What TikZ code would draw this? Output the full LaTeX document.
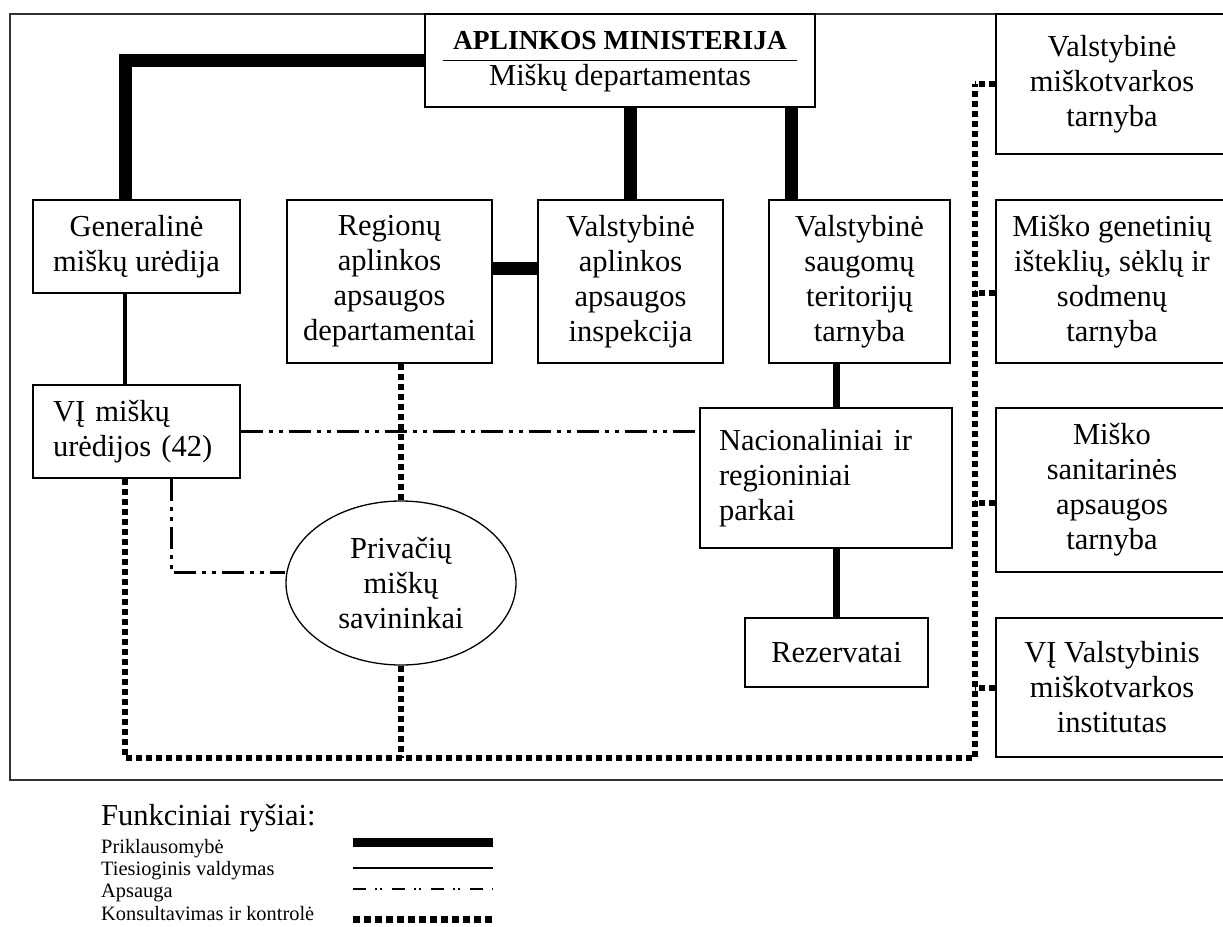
\documentclass[tikz,border=0pt]{standalone}
\usepackage{fontspec}
\setmainfont{Liberation Serif}
\usetikzlibrary{shapes.geometric}
\begin{document}
\begin{tikzpicture}[x=1pt, y=-1pt,
		box/.style={draw, line width=1.6pt, inner sep=0pt, align=center, font=\fontsize{30.5}{35}\selectfont},
		legtext/.style={anchor=base west, inner sep=0pt, font=\fontsize{20.4}{22}\selectfont},
		prikl/.style={line width=13pt},
		prikl2/.style={line width=7.5pt},
		valdym/.style={line width=4.5pt},
		apsaug/.style={line width=3pt, dash pattern=on 22pt off 6pt on 4pt off 6pt on 4pt off 6pt},
		konsult/.style={line width=6pt, dash pattern=on 6pt off 4pt}]
	\useasboundingbox (0,0) rectangle (1223,926);
	\clip (0,0) rectangle (1223,926);
	\draw[line width=2pt, black!80] (10,14) rectangle (1232,780);
	\node[box, minimum width=390, minimum height=93] (am) at (620,60.5) {\setlength{\arrayrulewidth}{1.5pt}\begin{tabular}{@{\hspace{10pt}}c@{\hspace{10pt}}}{\fontsize{27.5}{35}\selectfont\textbf{APLINKOS MINISTERIJA}}\\\hline Miškų departamentas\end{tabular}};
	\foreach \n/\cx/\cy/\w/\h/\txt in {
			gen/136.5/246.5/207/93/{Generalinė\\miškų urėdija},
			reg/389.5/281.5/205/163/{Regionų\\aplinkos\\apsaugos\\departamentai},
			vai/630.5/281.5/185/163/{Valstybinė\\aplinkos\\apsaugos\\inspekcija},
			vst/859.5/281.5/181/163/{Valstybinė\\saugomų\\teritorijų\\tarnyba},
			rez/836.5/652.5/183/69/{Rezervatai},
			vmt/1112/84/232/140/{Valstybinė\\miškotvarkos\\tarnyba},
			mgt/1112/281.5/232/163/{Miško genetinių\\išteklių, sėklų ir\\sodmenų\\tarnyba},
			mst/1112/490/232/164/{Miško\\sanitarinės\\apsaugos\\tarnyba},
			vmi/1112/687.5/232/139/{VĮ Valstybinis\\miškotvarkos\\institutas}} {
		\node[box, minimum width=\w, minimum height=\h] (\n) at (\cx,\cy) {\txt};
	}
	\node[box, align=left, inner xsep=20pt, text width=167pt, minimum height=93] (vi) at (136.5,431.5) {VĮ miškų\\urėdijos (42)};
	\node[box, align=left, inner xsep=19pt, text width=214pt, minimum height=140] (nrp) at (826,478) {Nacionaliniai ir\\regioniniai\\parkai};
	\node[box, ellipse, line width=1.3pt, minimum width=230, minimum height=164] (pms) at (401,583) {Privačių\\miškų\\savininkai};
	\coordinate (bl) at (125,758);
	\coordinate (br) at (975,758);
	\draw[prikl] (am.west) -| (gen.north -| 125,0);
	\draw[prikl] (am.south -| vai.north) -- (vai.north);
	\draw[prikl] (am.south -| 791,0) -- (vst.north -| 791,0);
	\draw[prikl] ([yshift=13.5pt]reg.east) -- ([yshift=13.5pt]vai.west);
	\draw[prikl2] (vst.south -| rez.north) -- (nrp.north -| rez.north);
	\draw[prikl2] (nrp.south -| rez.north) -- (rez.north);
	\draw[valdym] (gen.south -| 125,0) -- (vi.north -| 125,0);
	\draw[apsaug] (vi.east) -- (vi.east -| nrp.west);
	\draw[apsaug] (vi.south -| 171,0) |- ([yshift=11pt]pms.west);
	\draw[konsult] (vi.south -| bl) -- (bl) -- (br) -- (br |- vmt.west);
	\draw[konsult] (reg.south -| pms.north) -- (pms.north);
	\draw[konsult] (pms.south) -- (pms.south |- bl);
	\foreach \r/\s in {vmt/0, mgt/-11.5, mst/-13, vmi/0}
		\draw[konsult] ([yshift=\s pt]\r.west) -- ([yshift=\s pt]\r.west -| br);
	\node[legtext, font=\fontsize{30.5}{34}\selectfont] (leghead) at (101,825) {Funkciniai ryšiai:};
	\foreach \i/\txt/\y in {1/Priklausomybė/853, 2/Tiesioginis valdymas/875, 3/Apsauga/897, 4/Konsultavimas ir kontrolė/920}
		\node[legtext] (leg\i) at (101,\y) {\txt};
	\draw[line width=9pt] (353,842) -- (493,842);
	\draw[line width=2pt] (353,868) -- (493,868);
	\draw[line width=1.5pt, dash pattern=on 13pt off 9pt on 2pt off 3pt on 2pt off 10pt] (353,889) -- (493,889);
	\draw[line width=7pt, dash pattern=on 7pt off 4pt] (353,919) -- (493,919);
\end{tikzpicture}
\end{document}
